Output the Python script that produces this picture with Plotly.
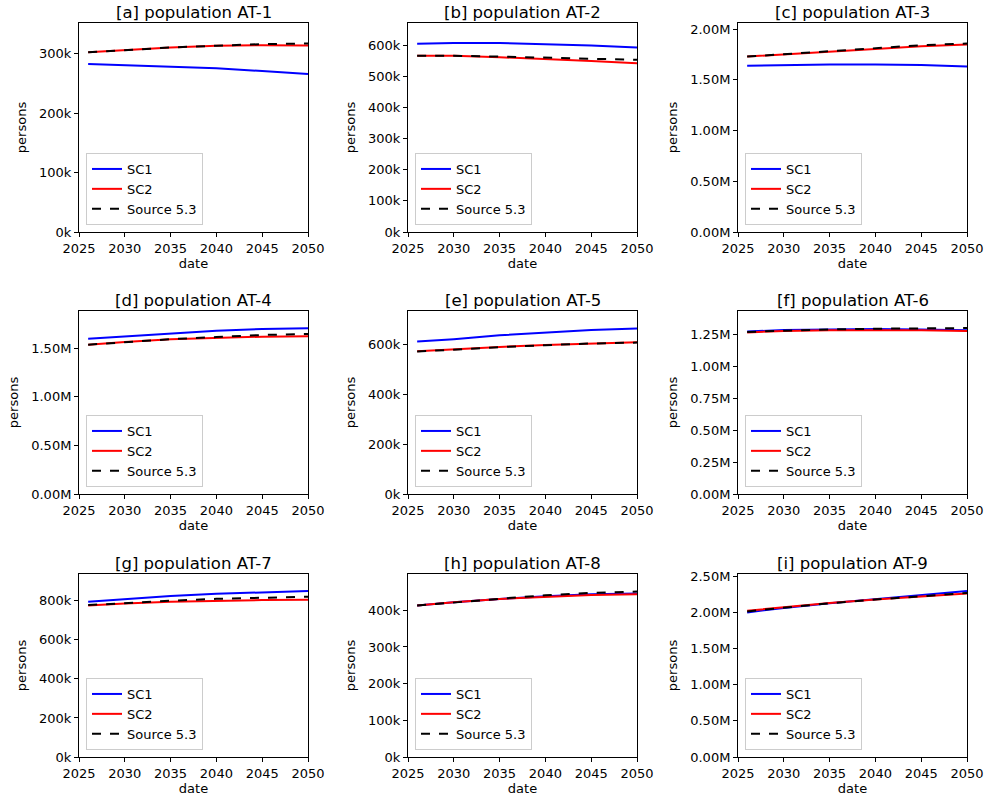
import plotly.graph_objects as go

years = [2026, 2030, 2035, 2040, 2045, 2050]

titles = ["[a] population AT-1", "[b] population AT-2", "[c] population AT-3",
          "[d] population AT-4", "[e] population AT-5", "[f] population AT-6",
          "[g] population AT-7", "[h] population AT-8", "[i] population AT-9"]

sc1_a = [283000, 281000, 279000, 275600, 271000, 266000]
sc2_a = [302800, 306700, 310700, 313500, 314700, 314000]
src_a = [302800, 306700, 310700, 313800, 316400, 317500]

sc1_b = [605000, 607600, 607600, 604000, 600000, 593500]
sc2_b = [566500, 566500, 562000, 556800, 550000, 542700]
src_b = [566500, 566500, 564000, 561000, 558000, 553500]

sc1_c = [1639000, 1648000, 1652000, 1652000, 1646000, 1632000]
sc2_c = [1729000, 1752000, 1778000, 1808000, 1831000, 1848000]
src_c = [1729000, 1752000, 1779000, 1810000, 1841000, 1858000]

sc1_d = [1599000, 1623000, 1658000, 1681000, 1699000, 1706000]
sc2_d = [1537000, 1565000, 1592000, 1609000, 1620000, 1623000]
src_d = [1537000, 1565000, 1594000, 1616000, 1637000, 1647000]

sc1_e = [612000, 621700, 637700, 649700, 659000, 664500]
sc2_e = [573000, 581500, 590800, 598800, 605500, 609500]
src_e = [572000, 580500, 589800, 597800, 604500, 608000]

sc1_f = [1276000, 1286000, 1291000, 1294000, 1291000, 1284000]
sc2_f = [1268000, 1279000, 1285000, 1287000, 1285000, 1279000]
src_f = [1272000, 1283000, 1291000, 1297000, 1301000, 1302000]

sc1_g = [795000, 808500, 824000, 836000, 844400, 849600]
sc2_g = [776000, 786300, 795000, 800000, 803400, 805000]
src_g = [777800, 789000, 800000, 810000, 815000, 820500]

sc1_h = [412800, 421900, 431000, 438300, 443500, 445600]
sc2_h = [412800, 421900, 431000, 437300, 441800, 443700]
src_h = [412800, 421900, 431500, 441000, 447400, 451000]

sc1_i = [2000000, 2062000, 2125000, 2180000, 2240000, 2296000]
sc2_i = [2023000, 2073000, 2129000, 2180000, 2225000, 2263000]
src_i = [2014000, 2068000, 2127000, 2178000, 2226000, 2268000]

sc1_all = [sc1_a, sc1_b, sc1_c, sc1_d, sc1_e, sc1_f, sc1_g, sc1_h, sc1_i]
sc2_all = [sc2_a, sc2_b, sc2_c, sc2_d, sc2_e, sc2_f, sc2_g, sc2_h, sc2_i]
src_all = [src_a, src_b, src_c, src_d, src_e, src_f, src_g, src_h, src_i]

y_top = [352000, 672000, 2060000, 1884000, 735000, 1436000, 937000, 499000, 2531000]

ytick_vals = [
    [0, 100000, 200000, 300000],
    [0, 100000, 200000, 300000, 400000, 500000, 600000],
    [0, 500000, 1000000, 1500000, 2000000],
    [0, 500000, 1000000, 1500000],
    [0, 200000, 400000, 600000],
    [0, 250000, 500000, 750000, 1000000, 1250000],
    [0, 200000, 400000, 600000, 800000],
    [0, 100000, 200000, 300000, 400000],
    [0, 500000, 1000000, 1500000, 2000000, 2500000],
]
ytick_text = [
    ["0k", "100k", "200k", "300k"],
    ["0k", "100k", "200k", "300k", "400k", "500k", "600k"],
    ["0.00M", "0.50M", "1.00M", "1.50M", "2.00M"],
    ["0.00M", "0.50M", "1.00M", "1.50M"],
    ["0k", "200k", "400k", "600k"],
    ["0.00M", "0.25M", "0.50M", "0.75M", "1.00M", "1.25M"],
    ["0k", "200k", "400k", "600k", "800k"],
    ["0k", "100k", "200k", "300k", "400k"],
    ["0.00M", "0.50M", "1.00M", "1.50M", "2.00M", "2.50M"],
]
xtick_vals = [2025, 2030, 2035, 2040, 2045, 2050]

W, H = 997, 797
col_px = [(79, 308), (408, 637), (738, 967)]
row_px = [(23, 232), (311, 494), (574, 757)]

FONT = "DejaVu Sans"
fig = go.Figure()
layout = dict(
    width=W, height=H, margin=dict(l=0, r=0, t=0, b=0, autoexpand=False),
    paper_bgcolor="white", plot_bgcolor="white",
    font=dict(family=FONT, size=13, color="black"),
    showlegend=True,
)
annotations = []

for k in range(9):
    r, c = divmod(k, 3)
    x0, x1 = col_px[c]
    t, b = row_px[r]
    sfx = "" if k == 0 else str(k + 1)
    xa, ya = "x" + sfx, "y" + sfx
    leg = "legend" + sfx
    for name, vals, color, dash in [("SC1", sc1_all[k], "#0000ff", "solid"),
                                    ("SC2", sc2_all[k], "#ff0000", "solid"),
                                    ("Source 5.3", src_all[k], "black", "dash")]:
        fig.add_trace(go.Scatter(x=years, y=vals, mode="lines", name=name,
                                 line=dict(color=color, width=2, dash=dash),
                                 xaxis=xa, yaxis=ya, legend=leg))
    layout["xaxis" + sfx] = dict(
        domain=[x0 / W, x1 / W], anchor=ya, range=[2025, 2050],
        tickvals=xtick_vals, ticks="outside", ticklen=4, tickcolor="black",
        showline=True, linecolor="black", linewidth=1, mirror=True,
        showgrid=False, zeroline=False, tickfont=dict(size=13), automargin=False,
        title=dict(text="date", font=dict(size=13), standoff=4),
    )
    layout["yaxis" + sfx] = dict(
        domain=[1 - b / H, 1 - t / H], anchor=xa, range=[0, y_top[k]],
        tickvals=ytick_vals[k], ticktext=ytick_text[k],
        ticks="outside", ticklen=4, tickcolor="black",
        showline=True, linecolor="black", linewidth=1, mirror=True,
        showgrid=False, zeroline=False, tickfont=dict(size=13), automargin=False,
        title=dict(text="persons", font=dict(size=13), standoff=9),
    )
    layout[leg] = dict(
        x=(x0 + 7) / W, y=1 - (b - 7) / H, xanchor="left", yanchor="bottom",
        bgcolor="rgba(255,255,255,0.85)", bordercolor="#cccccc", borderwidth=1,
        font=dict(size=13), tracegroupgap=0, itemwidth=30,
    )
    annotations.append(dict(
        text=titles[k], x=(x0 + x1) / 2 / W, y=1 - t / H, xref="paper", yref="paper",
        xanchor="center", yanchor="bottom", yshift=-1, showarrow=False,
        font=dict(size=16.5, family=FONT),
    ))

layout["annotations"] = annotations
fig.update_layout(**layout)
fig.write_html("out.html", config={"displayModeBar": False},
               post_script="document.body.style.margin='0';document.body.style.padding='0';")
